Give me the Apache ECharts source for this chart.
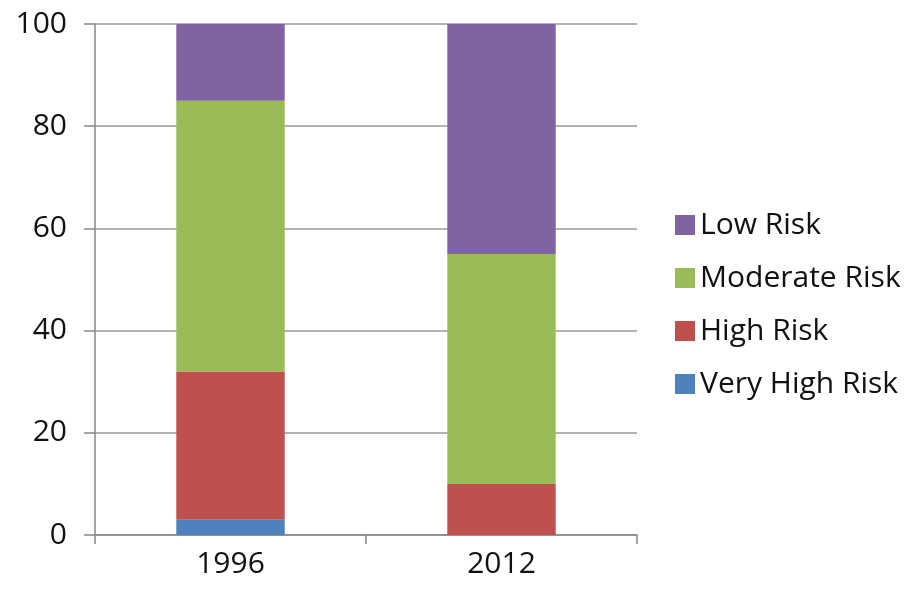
<!DOCTYPE html>
<html><head><meta charset="utf-8">
<script src="https://cdn.jsdelivr.net/npm/echarts@6/dist/echarts.min.js"></script>
<style>html,body{margin:0;padding:0;background:#fff}#c{width:908px;height:594px}</style>
</head><body><div id="c"></div>
<script>
var categories = ['1996', '2012'];
var veryHigh = [3, 0];
var high = [29, 10];
var moderate = [53, 45];
var low = [15, 45];
var yTicks = [0, 20, 40, 60, 80, 100];

var font = '"Open Sans", Lato, sans-serif';
var chart = echarts.init(document.getElementById('c'));
function s(name, data, color) {
  return {name: name, type: 'bar', stack: 'a', data: data, barWidth: '40%',
    itemStyle: {color: color}, emphasis: {disabled: true}};
}
chart.setOption({
  animation: false,
  grid: {left: 95, right: 271, top: 24, bottom: 59},
  legend: {
    orient: 'vertical', left: 670, top: 205, itemGap: 23,
    itemWidth: 20, itemHeight: 20, icon: 'rect',
    data: ['Low Risk', 'Moderate Risk', 'High Risk', 'Very High Risk'],
    textStyle: {fontFamily: font, fontSize: 30, color: '#111', padding: [0, 0, 0, 0]}
  },
  xAxis: {
    type: 'category', data: categories,
    axisLine: {lineStyle: {color: '#888', width: 1.5}},
    axisTick: {show: true, length: 9, alignWithLabel: false, lineStyle: {color: '#888', width: 1.5}},
    axisLabel: {fontFamily: font, fontSize: 30, color: '#111', margin: 14}
  },
  yAxis: {
    type: 'value', min: 0, max: 100, interval: 20,
    axisLine: {show: true, lineStyle: {color: '#888', width: 1.5}},
    axisTick: {show: true, length: 11, lineStyle: {color: '#888', width: 1.5}},
    splitLine: {lineStyle: {color: '#999', width: 1.5}},
    axisLabel: {fontFamily: font, fontSize: 30, color: '#111', margin: 28,
      formatter: function (v) { return yTicks.indexOf(v) >= 0 ? String(v) : ''; }}
  },
  series: [
    s('Very High Risk', veryHigh, '#4F81BD'),
    s('High Risk', high, '#C0504D'),
    s('Moderate Risk', moderate, '#9BBB59'),
    s('Low Risk', low, '#8064A2')
  ]
});
</script></body></html>
